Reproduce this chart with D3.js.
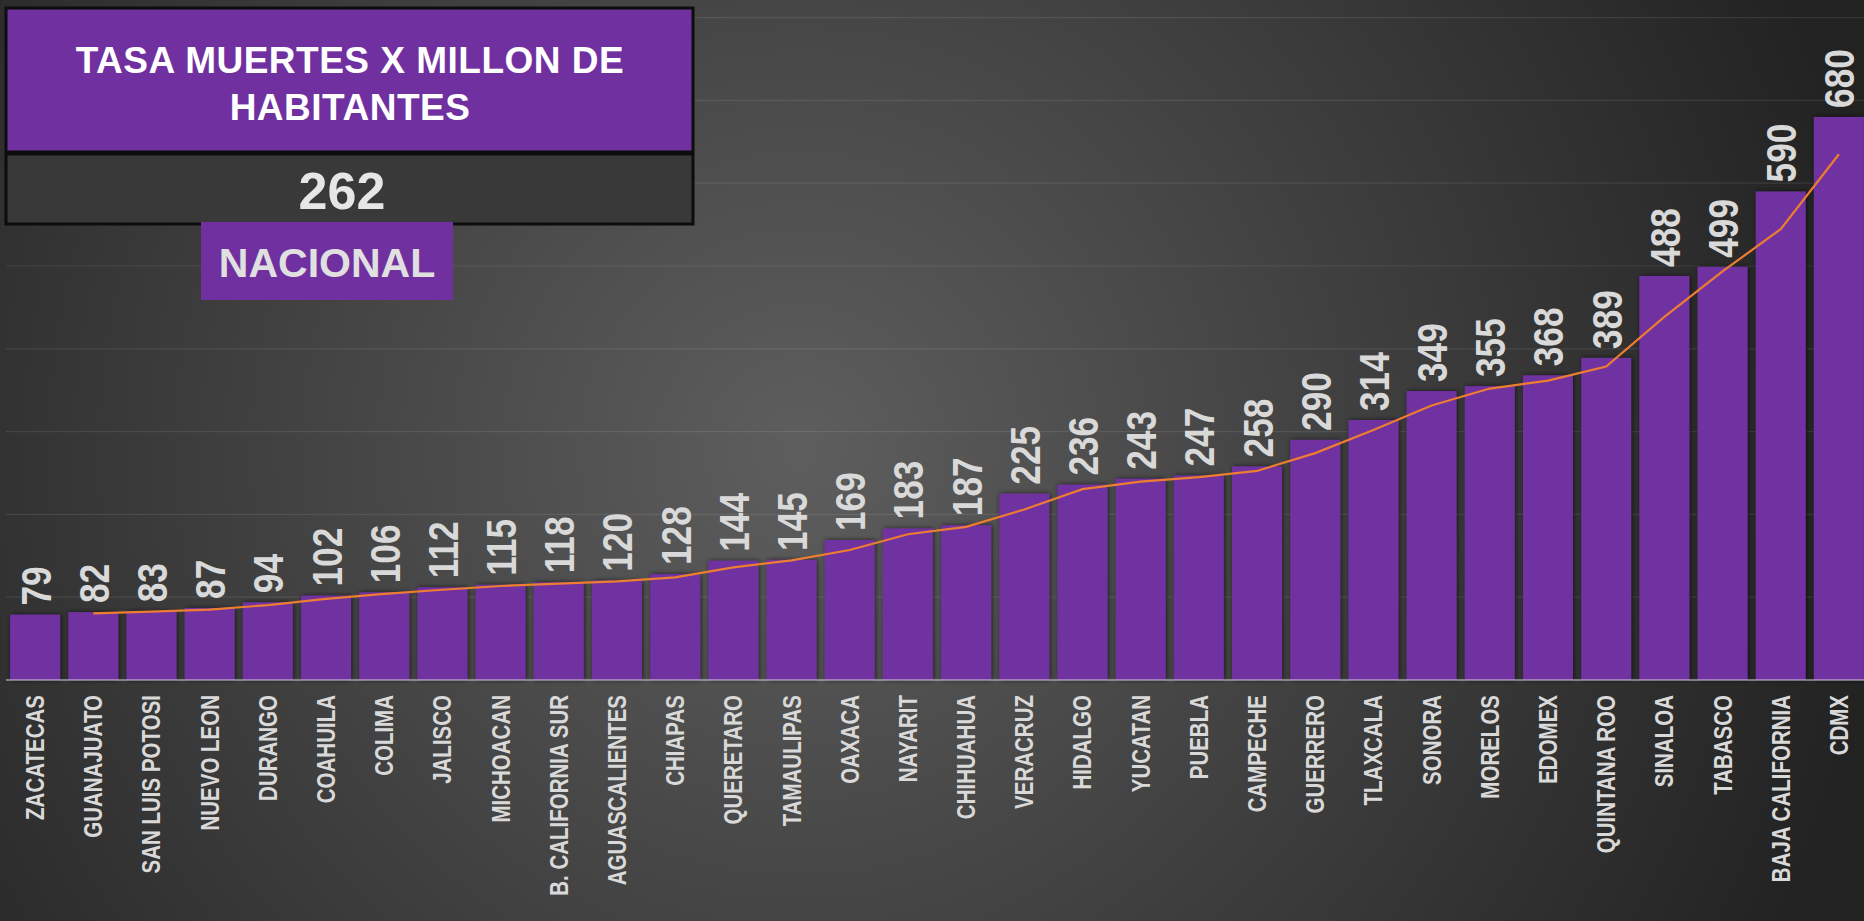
<!DOCTYPE html>
<html>
<head>
<meta charset="utf-8">
<script src="https://cdn.jsdelivr.net/npm/d3@7"></script>
<style>
  html, body { margin: 0; padding: 0; background: #2a2a2a; overflow: hidden; }
  svg { display: block; }
  .lbl { font-family: "Liberation Sans", Arial, sans-serif; font-weight: bold; }
</style>
</head>
<body>
<div id="content"></div>
<script>
// chart data
const states = ["ZACATECAS", "GUANAJUATO", "SAN LUIS POTOSI", "NUEVO LEON", "DURANGO", "COAHUILA",
  "COLIMA", "JALISCO", "MICHOACAN", "B. CALIFORNIA SUR", "AGUASCALIENTES", "CHIAPAS", "QUERETARO",
  "TAMAULIPAS", "OAXACA", "NAYARIT", "CHIHUAHUA", "VERACRUZ", "HIDALGO", "YUCATAN", "PUEBLA",
  "CAMPECHE", "GUERRERO", "TLAXCALA", "SONORA", "MORELOS", "EDOMEX", "QUINTANA ROO", "SINALOA",
  "TABASCO", "BAJA CALIFORNIA", "CDMX"];
const rates = [79, 82, 83, 87, 94, 102, 106, 112, 115, 118, 120, 128, 144, 145, 169, 183, 187,
  225, 236, 243, 247, 258, 290, 314, 349, 355, 368, 389, 488, 499, 590, 680];
const titleLines = ["TASA MUERTES X MILLON DE", "HABITANTES"];
const nationalRate = 262;
const nationalLabel = "NACIONAL";
const yMax = 800;

const W = 1864, H = 921;
const narrow = 0.82; // no narrow font installed, squeeze the text instead

const svg = d3.select("#content").append("svg")
  .attr("width", W)
  .attr("height", H);

const defs = svg.append("defs");
const grad = defs.append("radialGradient")
  .attr("id", "bg")
  .attr("gradientUnits", "userSpaceOnUse")
  .attr("cx", 800).attr("cy", 450).attr("r", 1100);
grad.append("stop").attr("offset", "0%").attr("stop-color", "#5e5e5e");
grad.append("stop").attr("offset", "45%").attr("stop-color", "#434343");
grad.append("stop").attr("offset", "100%").attr("stop-color", "#222222");

const shadow = defs.append("filter").attr("id", "shadow")
  .attr("x", "-20%").attr("y", "-5%").attr("width", "140%").attr("height", "110%");
shadow.append("feDropShadow")
  .attr("dx", 1).attr("dy", 0).attr("stdDeviation", 2.5)
  .attr("flood-color", "#000").attr("flood-opacity", 0.65);

svg.append("rect").attr("width", W).attr("height", H).attr("fill", "url(#bg)");

// scales
const x = d3.scaleBand()
  .domain(states)
  .range([6, 1868])
  .paddingInner(0.14)
  .paddingOuter(0.07);

const y = d3.scaleLinear()
  .domain([0, yMax])
  .range([680, 17.6]);

// gridlines
svg.append("g").selectAll("line")
  .data(y.ticks(8).filter(d => d > 0))
  .join("line")
  .attr("x1", 6).attr("x2", W)
  .attr("y1", d => y(d)).attr("y2", d => y(d))
  .attr("stroke", "rgba(255,255,255,0.09)")
  .attr("stroke-width", 1.2);

// bars
svg.append("g").selectAll("rect")
  .data(rates)
  .join("rect")
  .attr("x", (d, i) => x(states[i]))
  .attr("y", d => y(d))
  .attr("width", x.bandwidth())
  .attr("height", d => y(0) - y(d))
  .attr("fill", "#7030a0")
  .attr("filter", "url(#shadow)");

// baseline
svg.append("line")
  .attr("x1", 6).attr("x2", W)
  .attr("y1", y(0)).attr("y2", y(0))
  .attr("stroke", "rgba(205,190,215,0.55)")
  .attr("stroke-width", 2);

// 2 period moving average trendline
const avg = rates.map((d, i) => i === 0 ? null : [states[i], (rates[i - 1] + d) / 2]).filter(d => d);
const line = d3.line()
  .x(d => x(d[0]) + x.bandwidth() / 2)
  .y(d => y(d[1]));
svg.append("path")
  .datum(avg)
  .attr("d", line)
  .attr("fill", "none")
  .attr("stroke", "#ed7d31")
  .attr("stroke-width", 2.2);

// value labels
svg.append("g").selectAll("text")
  .data(rates)
  .join("text")
  .attr("class", "lbl")
  .attr("transform", (d, i) => `translate(${x(states[i]) + x.bandwidth() / 2},${y(d) - 9}) rotate(-90) scale(${narrow},1)`)
  .attr("dy", "0.36em")
  .attr("font-size", 43)
  .attr("fill", "#d9d9d9")
  .text(d => d);

// category labels
svg.append("g").selectAll("text")
  .data(states)
  .join("text")
  .attr("class", "lbl")
  .attr("transform", d => `translate(${x(d) + x.bandwidth() / 2},695) rotate(-90) scale(${narrow},1)`)
  .attr("text-anchor", "end")
  .attr("dy", "0.36em")
  .attr("font-size", 25)
  .attr("fill", "#d9d9d9")
  .text(d => d);

// title boxes
svg.append("rect")
  .attr("x", 6).attr("y", 8).attr("width", 687).attr("height", 144)
  .attr("fill", "#7030a0").attr("stroke", "#0d0d0d").attr("stroke-width", 3);
svg.append("rect")
  .attr("x", 6).attr("y", 154).attr("width", 687).attr("height", 70)
  .attr("fill", "#3a393a").attr("stroke", "#0d0d0d").attr("stroke-width", 3);
svg.append("rect")
  .attr("x", 201).attr("y", 222).attr("width", 252).attr("height", 78)
  .attr("fill", "#7030a0");

svg.append("g").selectAll("text")
  .data(titleLines)
  .join("text")
  .attr("class", "lbl")
  .attr("x", 350)
  .attr("y", (d, i) => 73 + i * 47)
  .attr("text-anchor", "middle")
  .attr("font-size", 37)
  .attr("letter-spacing", 0.5)
  .attr("fill", "#ffffff")
  .text(d => d);

svg.append("text")
  .attr("class", "lbl")
  .attr("x", 342).attr("y", 209)
  .attr("text-anchor", "middle")
  .attr("font-size", 52)
  .attr("fill", "#e6e6e6")
  .text(nationalRate);

svg.append("text")
  .attr("class", "lbl")
  .attr("x", 327).attr("y", 277)
  .attr("text-anchor", "middle")
  .attr("font-size", 41)
  .attr("fill", "#e0e0e0")
  .text(nationalLabel);
</script>
</body>
</html>
